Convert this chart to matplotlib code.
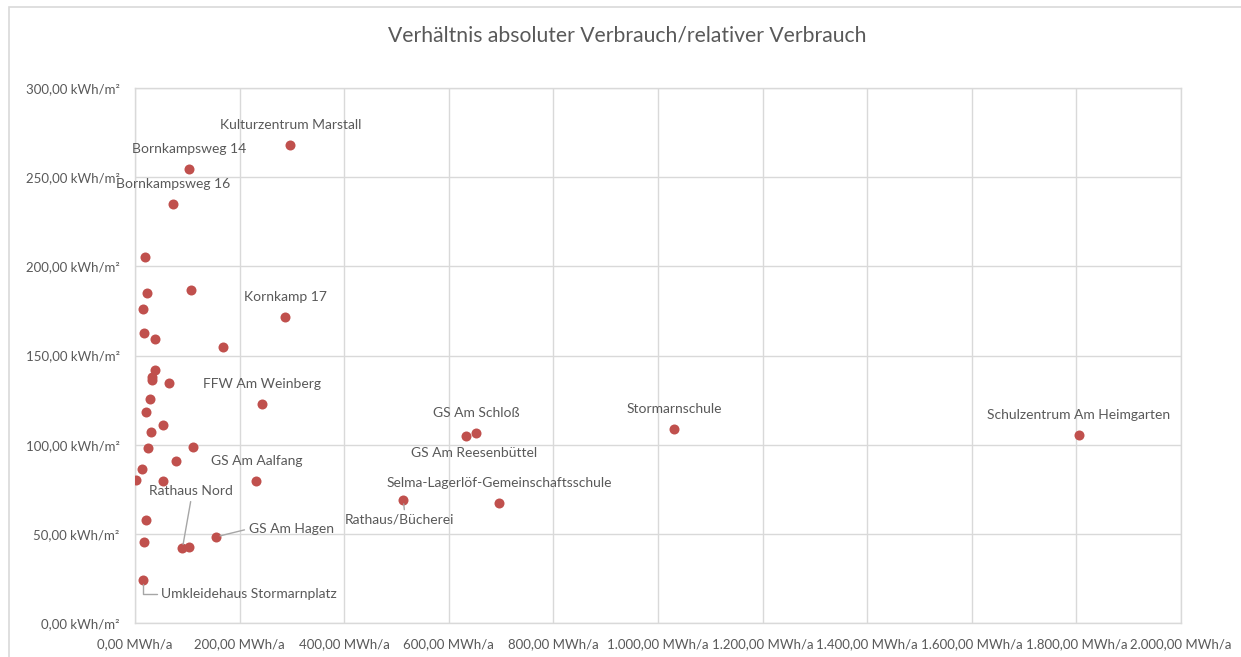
# Verhältnis absoluter Verbrauch / relativer Verbrauch - Streudiagramm
import matplotlib
matplotlib.use("Agg")
import matplotlib.pyplot as plt
from matplotlib.patches import Rectangle
from matplotlib.ticker import FuncFormatter, MultipleLocator

# ------------------------------------------
# DATEN
# ------------------------------------------

absolut_mwh = [297, 103, 72.7, 19, 22.3, 106.5, 14.7, 287.7, 17.9, 38.9,
               168.4, 38.9, 33.1, 33.1, 65.7, 243.7, 28.7, 20.4, 53, 30.6,
               24.3, 111, 77.9, 13.4, 2.5, 53, 232.2, 513, 696, 20.4,
               17.2, 90.6, 104, 155, 15.9, 633.5, 652.7, 1031, 1805]

relativ_kwh = [268, 254.7, 234.8, 205, 185.2, 186.7, 176.2, 171.7, 162.4, 159.5,
               154.7, 141.7, 138.2, 136, 134.7, 122.6, 125.8, 118.5, 110.9, 107.3,
               98.3, 98.7, 90.6, 86.1, 80.3, 79.9, 79.9, 69.1, 67.4, 57.7,
               45.5, 41.8, 42.7, 48.3, 24.3, 104.7, 106.6, 108.6, 105.4]

gebaeude = ["Kulturzentrum Marstall", "Bornkampsweg 14", "Bornkampsweg 16", "", "", "", "",
            "Kornkamp 17", "", "", "", "", "", "", "", "FFW Am Weinberg", "", "", "", "",
            "", "", "", "", "", "", "GS Am Aalfang", "Rathaus/Bücherei",
            "Selma-Lagerlöf-Gemeinschaftsschule", "", "", "Rathaus Nord", "", "GS Am Hagen",
            "Umkleidehaus Stormarnplatz", "GS Am Reesenbüttel", "GS Am Schloß",
            "Stormarnschule", "Schulzentrum Am Heimgarten"]

# Beschriftungsversatz in Pixeln (dx, dy) und Führungslinien
versatz = {
    "Rathaus Nord": (9, 57, (0.5, 0.0)),
    "GS Am Hagen": (75, 8, (0.0, 0.5)),
    "Umkleidehaus Stormarnplatz": (106, -14, (0.0, 0.5)),
    "Rathaus/Bücherei": (-4, -20, (0.55, 1.0)),
    "GS Am Reesenbüttel": (8, -17, None),
}

# ------------------------------------------
# DIAGRAMM
# ------------------------------------------

plt.rcParams['font.family'] = ['Lato', 'DejaVu Sans']
grau = "#595959"
gitter = "#d9d9d9"

fig = plt.figure(figsize=(12.41, 6.57), dpi=100)
ax = fig.add_axes([135 / 1241, 34 / 657, 1046 / 1241, 535 / 657])

# Rahmen des Diagrammbereichs
fig.patches.append(Rectangle((8.5 / 1241, -0.1), 1.2, (657 - 6.5) / 657 + 0.1,
                             transform=fig.transFigure, fill=False,
                             edgecolor=gitter, linewidth=1.2))

ax.scatter(absolut_mwh, relativ_kwh, s=52, color="#c0504d", zorder=3, linewidths=0)

for x, y, name in zip(absolut_mwh, relativ_kwh, gebaeude):
    if not name:
        continue
    dx, dy, rel = versatz.get(name, (0, 20, None))
    if rel is not None:
        pfeil = dict(arrowstyle="-", color="#a6a6a6", lw=1, shrinkA=1, shrinkB=3,
                     relpos=rel)
        if name == "Umkleidehaus Stormarnplatz":
            pfeil["connectionstyle"] = "angle,angleA=0,angleB=90,rad=0"
    else:
        pfeil = None
    ax.annotate(name, (x, y), xytext=(dx, dy), textcoords="offset pixels",
                ha="center", va="center", fontsize=10, color=grau,
                arrowprops=pfeil, zorder=4)

ax.set_xlim(0, 2000)
ax.set_ylim(0, 300)
ax.xaxis.set_major_locator(MultipleLocator(200))
ax.yaxis.set_major_locator(MultipleLocator(50))


def deutsch(v):
    s = f"{v:,.2f}"
    return s.replace(",", "X").replace(".", ",").replace("X", ".")


ax.xaxis.set_major_formatter(FuncFormatter(lambda v, p: deutsch(v) + " MWh/a"))
ax.yaxis.set_major_formatter(FuncFormatter(lambda v, p: deutsch(v) + " kWh/m²"))

ax.grid(True, color=gitter, linewidth=1)
ax.set_axisbelow(True)
for sp in ax.spines.values():
    sp.set_color(gitter)
    sp.set_linewidth(1)
ax.tick_params(length=0, labelsize=9.5, labelcolor=grau)
ax.tick_params(axis="x", pad=11)
ax.tick_params(axis="y", pad=11)

fig.text(627 / 1241, 1 - 35 / 657, "Verhältnis absoluter Verbrauch/relativer Verbrauch",
         ha="center", va="center", fontsize=15.2, color=grau)

fig.savefig("out.png", dpi=100)
